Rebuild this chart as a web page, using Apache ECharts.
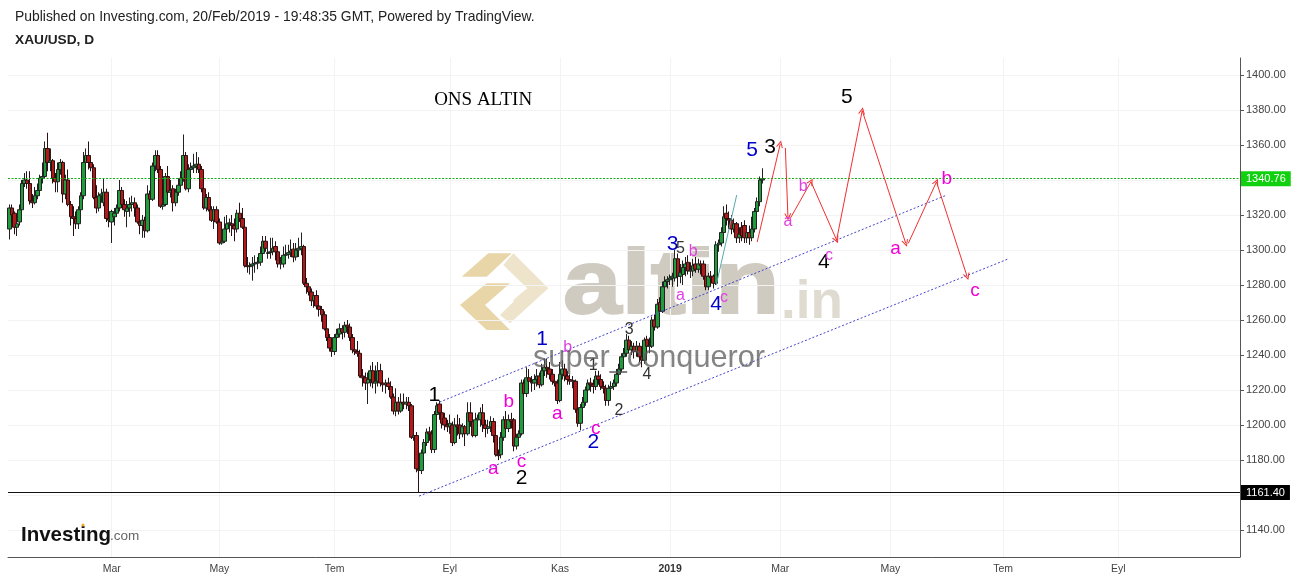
<!DOCTYPE html>
<html><head><meta charset="utf-8"><style>html,body{margin:0;padding:0;background:#fff}#c{width:1299px;height:581px}</style>
<script src="https://cdn.jsdelivr.net/npm/echarts@6/dist/echarts.min.js"></script></head>
<body><div id="c"></div><script>
// [open, close, low, high]
const candlesA=[[1312,1324,1306,1326],[1324,1320,1316,1326],[1321,1313,1309,1322],[1313,1315,1308,1318],[1316,1323,1314,1326],[1323,1338,1322,1340],[1338,1340,1336,1344],[1340,1338,1335,1345],[1338,1328,1326,1345],[1328,1327,1324,1332],
[1327,1331,1326,1336],[1331,1334,1329,1338],[1334,1341,1331,1343],[1341,1342,1338,1350],[1342,1358,1341,1362],[1358,1350,1345,1367],[1350,1351,1345,1358],[1351,1341,1338,1352],[1341,1339,1333,1344],[1339,1346,1333,1350],
[1346,1350,1343,1352],[1350,1332,1327,1351],[1332,1340,1329,1343],[1340,1326,1325,1346],[1326,1319,1314,1328],[1319,1318,1308,1325],[1318,1315,1312,1322],[1315,1323,1312,1325],[1323,1331,1321,1333],[1331,1350,1329,1356],
[1350,1354,1348,1358],[1354,1350,1346,1362],[1350,1347,1345,1352],[1347,1330,1329,1349],[1330,1324,1321,1337],[1324,1331,1322,1333],[1331,1332,1327,1335],[1327,1333,1325,1341],[1333,1318,1316,1335],[1318,1317,1313,1320],
[1316,1322,1304,1323],[1319,1321,1314,1324],[1321,1324,1319,1326],[1324,1334,1322,1340],[1334,1326,1324,1336],[1326,1323,1319,1329],[1322,1324,1313,1328],[1324,1326,1319,1330],[1326,1327,1322,1331],[1327,1324,1319,1330],
[1324,1316,1315,1326],[1316,1314,1309,1318],[1314,1317,1307,1320],[1317,1311,1307,1319],[1311,1332,1310,1337],[1332,1329,1326,1334],[1329,1348,1328,1350],[1348,1354,1345,1357],[1354,1346,1344,1357],[1346,1325,1324,1348]];
const candlesB=[[1325,1326,1323,1330],[1326,1342,1325,1344],[1342,1333,1331,1348],[1333,1334,1330,1340],[1335,1327,1322,1337],[1327,1333,1325,1335],[1333,1337,1331,1341],[1337,1341,1335,1345],[1341,1354,1339,1366],[1354,1335,1334,1356],
[1335,1346,1333,1349],[1346,1347,1342,1350],[1347,1348,1344,1355],[1348,1349,1344,1356],[1349,1346,1344,1353],[1346,1335,1333,1348],[1335,1324,1323,1337],[1324,1330,1322,1332],[1330,1323,1322,1333],[1323,1317,1316,1325],
[1317,1323,1312,1325],[1323,1316,1315,1325],[1316,1304,1303,1318],[1304,1305,1303,1312],[1305,1312,1304,1319],[1312,1315,1308,1320],[1315,1315.5,1310,1318],[1315,1314,1308,1320],[1314,1312,1305,1318],[1312,1321,1310,1323],
[1321,1318,1316,1327],[1318,1313,1312,1324],[1313,1291,1290,1314],[1291,1290.5,1287,1296],[1290.5,1291,1286,1293],[1291,1292,1282.5,1296],[1292,1292.5,1287,1297],[1292.5,1293,1289,1296],[1293,1298,1291,1302],[1298,1305,1296,1308],
[1305,1301,1299,1308],[1298,1298.5,1295,1303],[1298.5,1299,1295,1307],[1299,1301,1297,1307],[1302,1299,1294,1305],[1299,1292,1290,1301],[1292,1292.5,1289,1296],[1292,1297,1290,1302],[1297,1297.5,1294,1303],[1297.5,1298.5,1295,1303],
[1298.5,1299.5,1296,1306],[1300.5,1296,1293,1304],[1296,1300,1294,1304],[1300,1301,1296,1307],[1301,1302,1297,1310],[1302,1281,1280,1303],[1281,1279,1275,1284],[1279,1276,1274,1280],[1276,1271,1268,1278]];
const candlesC=[[1271,1274,1267,1276],[1274,1268,1266,1277],[1268,1266,1262,1270],[1266,1263,1259,1268],[1263,1255,1254,1265],[1255,1250,1248,1257],[1250,1244,1242,1252],[1244,1242,1239,1248],
[1242,1250,1240,1252],[1250,1252,1248,1255],[1252,1255,1250,1258],[1255,1253,1249,1257],[1253,1257,1250,1259],[1257,1256,1252,1260],[1256,1250,1248,1258],[1250,1243,1241,1252],[1243,1242,1240,1246],[1242,1241,1239,1248],[1241,1228,1227,1243],
[1228,1227,1222,1232],[1227,1224,1220,1230],[1224,1226,1212,1230],[1226,1231,1222,1234],[1231,1224,1221,1236],[1224,1225,1218,1234],[1225,1231,1222,1236],[1231,1224,1222,1235],[1224,1223,1219,1227],[1223,1224,1218,1226],
[1224,1222,1220,1227],[1222,1216,1215,1225],[1216,1208,1206,1218],[1208,1213,1205,1221],[1213,1208,1206,1216],[1208,1213,1207,1218],[1213,1212,1209,1218],[1212,1213,1209,1216],[1213,1211,1208,1216],[1211,1193,1192,1212],
[1193,1194,1191,1197],[1194,1175,1173,1196],[1175,1174,1161.4,1178],[1174,1184,1172,1186],[1184,1190,1182,1192],[1190,1196,1188,1198],[1196,1195,1191,1199],[1195,1186,1184,1197],[1186,1206,1184,1208],[1206,1211,1204,1213]];
const candlesD=[[1212,1207,1203,1214],[1207,1201,1198,1209],[1204,1200,1197,1207],[1200,1199,1196,1203],[1199,1201,1195,1206],[1200,1190,1188,1202],[1190,1200,1189,1204],[1200,1199,1194,1206],[1200,1195,1192,1204],[1195,1199,1193,1201],
[1199,1195,1188,1200],[1195,1207,1194,1213],[1207,1202,1199,1213],[1202,1194,1193,1205],[1194,1203,1193,1207],[1203,1204,1198,1206],[1203,1207,1199,1210],[1207,1200,1196,1212],[1200,1198,1193,1203],[1198,1199,1195,1203],
[1199,1202,1196,1205],[1202,1194,1190,1204],[1194,1183,1182,1196],[1183,1182.5,1180,1186],[1183,1193,1181,1196],[1193,1203,1191,1205],[1203,1198,1196,1208],[1198,1203,1196,1206],[1203,1202,1198,1207],[1203,1188,1185,1204],
[1188,1193,1186,1195],[1193,1195,1190,1197],[1195,1224,1194,1226],[1224,1218,1217,1226],[1218,1227,1216,1233],[1227,1225,1220,1232],[1225,1224,1219,1228],[1224,1226,1220,1229],[1226,1228,1222,1232],[1228,1223,1221,1230],
[1223,1231,1222,1235],[1231,1233,1228,1238],[1233,1232,1227,1238],[1232,1229,1226,1236],[1229,1225,1223,1232],[1225,1224,1222,1228],[1224,1214,1212,1226],[1214,1229,1213,1236],[1229,1232,1226,1237],[1232,1228,1225,1235],
[1228,1226,1223,1231],[1226,1225,1223,1229],[1225,1225.5,1221,1228],[1225,1209,1207,1226],[1209,1201,1199,1211],[1201,1210,1197,1212],[1210,1213,1208,1216],[1213,1220,1211,1222],[1220,1224,1216,1226],[1224,1223,1219,1227],
[1223,1222,1218,1226],[1222,1228,1220,1231],[1228,1226,1223,1231],[1226,1222,1220,1229],[1222,1221,1218,1225],[1221,1214,1211,1223],[1214,1221,1211,1223],[1221,1222,1217,1225],[1222,1224,1220,1226],[1224,1229,1222,1232]];
const candlesE=[[1229,1232,1227,1235],[1232,1239,1230,1241],[1239,1241,1237,1244],[1241,1248.5,1239,1252],[1248.5,1243,1241,1251],[1243,1245,1240,1248],[1245,1242,1238,1247],[1242,1245,1239,1248],[1245,1239,1236,1247],[1239,1237,1233,1241],
[1237,1248.5,1235,1250],[1249,1245,1240,1251],[1245,1245.5,1241,1250],[1245,1260,1244,1262],[1260,1256,1254,1263],[1256,1269,1255,1272],[1270,1265,1263,1273],[1265,1279,1264,1282],[1279,1282,1275,1285],[1282,1283,1278,1285],
[1283,1284,1280,1286],[1284,1285,1279,1287],[1284,1295,1282,1300],[1295,1285,1279,1298],[1285,1287,1281,1292],[1286,1290,1280,1294],[1290,1292,1285,1296],[1293,1288,1286,1297],[1288,1288.5,1284,1293],[1288,1291,1285,1295],
[1292,1289,1287,1296],[1289,1292,1287,1295],[1292,1291,1286,1294],[1292,1285,1283,1294],[1285,1279,1277,1287],[1279,1285,1277,1287],[1285,1284,1280,1288],[1285,1281,1278,1286],[1281,1303,1280,1305],[1303,1304,1299,1306],
[1304,1310,1302,1313],[1310,1319,1308,1325],[1321,1318,1314,1326],[1318,1317,1312,1322],[1317,1312,1309,1320],[1312,1315,1310,1318],[1315,1307,1304,1316],[1307,1309,1304,1313],[1313,1308,1305,1316],[1314,1307,1304,1317],
[1307,1310,1304,1314],[1310,1307,1303,1314],[1307,1312,1305,1319],[1312,1322,1310,1324],[1322,1327.6,1320,1330],[1327.6,1340,1325,1342],[1340,1340.76,1338,1346.7]];
const candles=[...candlesA,...candlesB,...candlesC,...candlesD,...candlesE];

const slotCount=481;
const tickSlots=[40,82,127,172,215,258,301,344,388,433];
const tickLabels=['Mar','May','Tem','Eyl','Kas','2019','Mar','May','Tem','Eyl'];
const priceTicks=[1140,1160,1180,1200,1220,1240,1260,1280,1300,1320,1340,1360,1380,1400];
const lastPrice=1340.76, lowPrice=1161.40;

// forecast path segments [slot,price,slot,price]
const forecast=[[292,1304.6,301,1360.6],[303,1358.3,304,1318.9],[305,1318.3,313,1339],[313,1339,323,1305.7],[323,1305.7,333,1379.6],[333,1379.6,350,1303.8],[351,1303.8,362,1338.9],[362,1338.9,374,1284.7]];
const channelLines=[[168,1213.1,366,1331.4],[160,1159.4,390,1294.9]];
const tealLine=[276,1280,284,1331.4];

// wave labels [slot,price,text]
const wavesBlack=[[166,1217,'1'],[200,1169.7,'2'],[297,1358.9,'3'],[318,1293.1,'4'],[327,1387.4,'5']];
const wavesBlue=[[208,1249.1,'1'],[228,1190.3,'2'],[259,1303.4,'3'],[276,1269.1,'4'],[290,1357.1,'5']];
const wavesMagenta=[[189,1174.9,'a'],[195,1213.1,'b'],[200,1178.9,'c'],[214,1206.3,'a'],[229,1197.7,'c'],[346,1300.6,'a'],[366,1340.6,'b'],[377,1276.6,'c']];
const wavesPale=[[218,1244,'b'],[262,1273.7,'a'],[267,1298.9,'b'],[279,1272.6,'c'],[304,1316,'a'],[310,1336,'b'],[320,1296.6,'c']];
const wavesGray=[[242,1254.3,'3'],[249,1228.6,'4'],[228,1233.7,'1'],[238,1208,'2'],[262,1300.6,'5']];
const chartTitle=[[185,1385.7,'ONS ALTIN']];

const sans='"Liberation Sans",Arial,sans-serif';
const categories=Array.from({length:slotCount},(_,i)=>{const k=tickSlots.indexOf(i);return k<0?'':tickLabels[k]});
const isTick=i=>tickSlots.includes(i);
const labelSeries=(data,color,size,font,weight)=>({type:'scatter',data,symbolSize:1,itemStyle:{color:'transparent',opacity:1},z:20,silent:true,clip:false,
  encode:{x:0,y:1},label:{show:true,position:'inside',offset:[0,2],formatter:p=>p.data[2],color,fontSize:size,fontFamily:font||sans,fontWeight:weight||'normal'},labelLayout:{hideOverlap:false}});
const seg=(s,style,sym)=>[{coord:[s[0],s[1]],symbol:'none',lineStyle:style},{coord:[s[2],s[3]],symbol:sym||'none',symbolSize:7}];
const chevron='path://M50,0 L100,100 L84,100 L50,30 L16,100 L0,100 Z';

const chart=echarts.init(document.getElementById('c'),null,{renderer:'canvas'});
chart.setOption({
 animation:false,backgroundColor:'#fff',
 grid:{left:8,right:59,top:58,bottom:24,containLabel:false},
 tooltip:{show:false},
 xAxis:{type:'category',data:categories,boundaryGap:true,
  axisLine:{lineStyle:{color:'#555',width:1}},
  axisTick:{alignWithLabel:true,interval:isTick,length:3,lineStyle:{color:'#555'}},
  axisLabel:{interval:isTick,color:'#444',fontSize:10.5,fontFamily:sans,margin:7,hideOverlap:false,
    formatter:v=>v==='2019'?'{b|2019}':v,rich:{b:{fontWeight:'bold',fontSize:10.5,color:'#333',fontFamily:sans}}},
  splitLine:{show:false}},
 yAxis:{type:'value',position:'right',min:1124.6,max:1409.7,scale:true,
  axisLine:{show:true,lineStyle:{color:'#555',width:1}},
  axisTick:{show:true,length:4,lineStyle:{color:'#555'},customValues:priceTicks},
  axisLabel:{color:'#444',fontSize:11,fontFamily:sans,margin:6,padding:[2,0,0,0],customValues:priceTicks,formatter:v=>v.toFixed(2)},
  splitLine:{show:false}},
 graphic:{elements:[
  {type:'text',x:15,y:17,z:30,style:{text:'Published on Investing.com, 20/Feb/2019 - 19:48:35 GMT, Powered by TradingView.',font:'13.9px '+sans,fill:'#222',textVerticalAlign:'middle'}},
  {type:'text',x:15,y:40,z:30,style:{text:'XAU/USD, D',font:'bold 13.7px '+sans,fill:'#222',textVerticalAlign:'middle'}},
  {type:'polygon',z:-1,shape:{points:[[461.7,276.7],[488.3,253.3],[511.7,253.3],[486.7,276.7]]},style:{fill:'#e9d6a8'}},
  {type:'polygon',z:-1,shape:{points:[[460,305],[486.7,283.3],[510,283.3],[485,305],[510,330],[486.7,330]]},style:{fill:'#e9d6a8'}},
  {type:'polygon',z:-1,shape:{points:[[513.3,253.3],[548.3,288.3],[510,323.3],[500,315],[527.3,288.3],[503.3,265]]},style:{fill:'#eee3cb'}},
  {type:'polygon',z:-1,shape:{points:[[513.3,300],[525,290],[531.7,296.7],[520,308.3]]},style:{fill:'#eee3cb'}},
  {type:'text',x:563,y:288,scaleX:1.17,z:-1,style:{text:'altin',font:'bold 90px '+sans,fill:'#d0cbc0',stroke:'#d0cbc0',lineWidth:2,textVerticalAlign:'middle'}},
  {type:'text',x:781,y:303,z:-1,style:{text:'.in',font:'bold 53px '+sans,fill:'#dfdbd0',textVerticalAlign:'middle'}},
  {type:'text',x:533,y:359,z:40,style:{text:'super_conqueror',font:'30.7px '+sans,fill:'rgba(90,90,90,0.75)',textVerticalAlign:'middle'}},
  {type:'text',x:21,y:535,z:30,style:{text:'Investing',font:'bold 20.5px '+sans,fill:'#111',textVerticalAlign:'middle'}},
  {type:'text',x:110,y:536,z:30,style:{text:'.com',font:'13.5px '+sans,fill:'#666',textVerticalAlign:'middle'}},
  {type:'circle',z:31,shape:{cx:83,cy:525,r:1.6},style:{fill:'#f0a830'}}
 ]},
 series:[
  {type:'line',data:[],z:1,silent:true,markLine:{silent:true,animation:false,symbol:'none',label:{show:false},lineStyle:{color:'#f3f3f3',width:1,type:'solid'},z:1,
    data:[...priceTicks.map(y=>({yAxis:y})),...tickSlots.map(i=>({xAxis:i}))]}},
  {type:'candlestick',data:candles,barWidth:4,z:5,silent:true,
   itemStyle:{color:'#1f9d3c',color0:'#b01a1a',borderColor:'#222',borderColor0:'#2a1010',borderWidth:1}},
  {type:'line',data:[],z:8,silent:true,markLine:{silent:true,animation:false,symbol:'none',z:8,
    data:[
     {yAxis:lastPrice,lineStyle:{color:'#10b010',type:[2,1.5],width:1},label:{show:true,position:'end',formatter:lastPrice.toFixed(2),color:'#fff',backgroundColor:'#10d010',fontFamily:sans,fontSize:11,padding:[2,5],distance:1}},
     {yAxis:lowPrice,lineStyle:{color:'#111',type:'solid',width:1},label:{show:true,position:'end',formatter:lowPrice.toFixed(2),color:'#fff',backgroundColor:'#000',fontFamily:sans,fontSize:11,padding:[2,5],distance:1}},
     ...channelLines.map(s=>seg(s,{color:'#4444cc',type:[2,2],width:1})),
     seg(tealLine,{color:'#55aaaa',type:'solid',width:1}),
     ...forecast.map(s=>seg(s,{color:'#f03030',type:'solid',width:1},chevron))
    ]}},
  labelSeries(wavesBlack,'#000',21),
  labelSeries(wavesBlue,'#0000c8',21),
  labelSeries(wavesMagenta,'#f000d8',19),
  labelSeries(wavesPale,'#e040e0',16),
  labelSeries(wavesGray,'#333',16),
  labelSeries(chartTitle,'#000',19,'"Liberation Serif",serif')
 ]
});
</script></body></html>
